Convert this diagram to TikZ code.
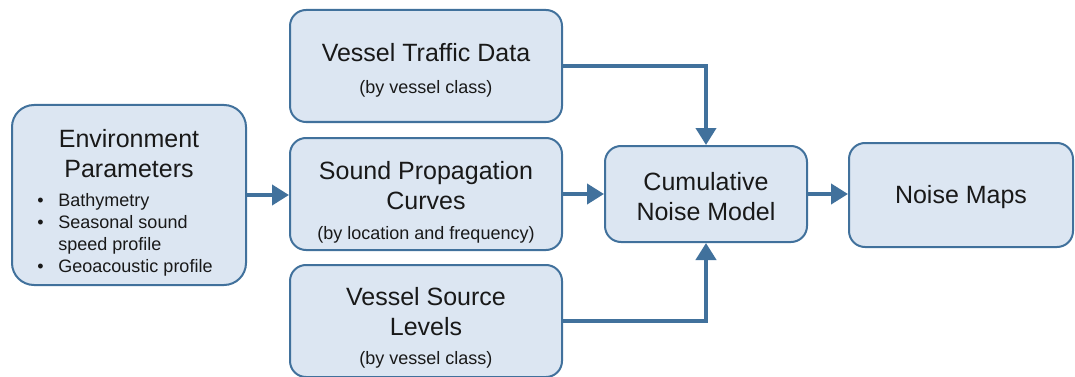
\documentclass[tikz,border=0pt]{standalone}
\usepackage{fontspec}
\setmainfont{Liberation Sans}
\usetikzlibrary{positioning, arrows.meta}

\definecolor{boxfill}{HTML}{DCE6F2}
\definecolor{boxline}{HTML}{41719C}
\newcommand{\bigtxt}{\fontsize{25}{30}\selectfont}
\newcommand{\smalltxt}{\fontsize{18}{22}\selectfont}
\newcommand{\lift}[1]{\rule{0pt}{\dimexpr18.5pt+#1\relax}}

\tikzset{
  box/.style={draw=boxline, fill=boxfill, line width=2pt, rounded corners=16pt,
    align=center, inner sep=0pt, text=black!90, font=\bigtxt},
  flow/.style={draw=boxline, line width=4pt, -{Triangle[length=17pt,width=20pt]}}
}

\begin{document}
\begin{tikzpicture}[x=1pt,y=1pt,node distance=128pt,on grid]
        \useasboundingbox (0,0) rectangle (1075,-377);
        \node[box,minimum width=234pt,minimum height=180pt,rounded corners=22pt] (env) at (129,-195)
          {\lift{17.5pt}Environment\\ Parameters\\[12.5pt]
           \smalltxt\hspace*{-8pt}\begin{tabular}{@{}p{21pt}@{}l@{}}
             \textbullet & Bathymetry\\
             \textbullet & Seasonal sound\\
                         & speed profile\\
             \textbullet & Geoacoustic profile
           \end{tabular}};
        \node[box,minimum width=272pt,minimum height=112pt] (sound) at (426,-194)
          {\lift{16pt}Sound Propagation\\ Curves\\[0pt] \smalltxt (by location and frequency)};
        \node[box,minimum width=272pt,minimum height=112pt] (traffic) [above=of sound]
          {\lift{8pt}Vessel Traffic Data\\[2pt] \smalltxt (by vessel class)};
        \node[box,minimum width=272pt,minimum height=112pt] (source) [below=127pt of sound]
          {\lift{12.5pt}Vessel Source\\ Levels\\[-1pt] \smalltxt (by vessel class)};
        \node[box,minimum width=202pt,minimum height=96pt] (cumul) at (706,-194)
          {\lift{5pt}Cumulative\\ Noise Model};
        \node[box,minimum width=224pt,minimum height=104pt] (maps) at (961,-195)
          {\lift{4pt}Noise Maps};
        \path[flow]
        (env.east) -- (env.east -| sound.west);
        \path[flow] (sound.east) -- (sound.east -| cumul.west);
        \path[flow] (traffic.east) -| (cumul.north);
        \path[flow] (source.east) -| (cumul.south);
        \path[flow] (cumul.east) -- (cumul.east -| maps.west);
      \end{tikzpicture}
\end{document}
